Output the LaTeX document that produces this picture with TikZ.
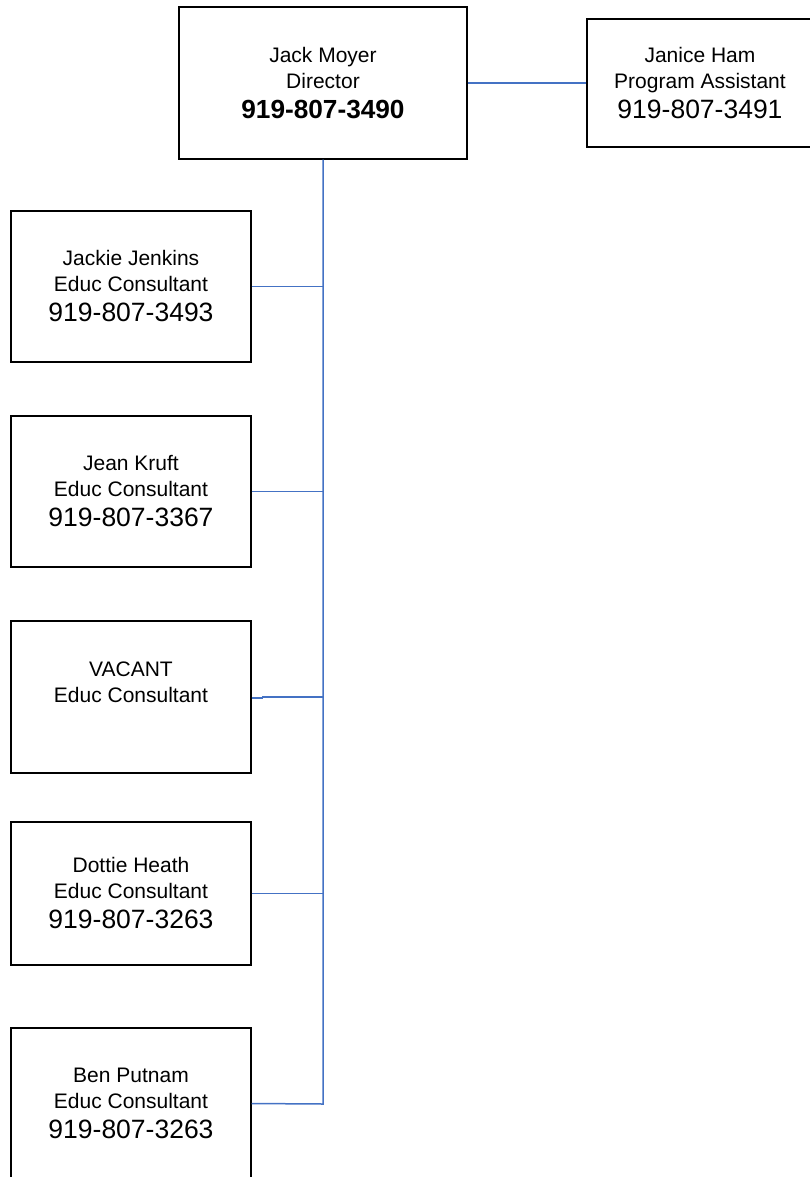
\documentclass[tikz,border=0pt]{standalone}
\usepackage{fontspec}
\setmainfont{Liberation Sans}
\usetikzlibrary{positioning}
\definecolor{wire}{HTML}{4472C4}
\newcommand{\phone}[1]{{\fontsize{26.5}{30}\selectfont #1}}
\tikzset{
  staff/.style={draw=black,line width=1.4pt,minimum width=240pt,minimum height=151pt,
                inner sep=0pt,align=center,font=\fontsize{21}{26}\selectfont},
  link/.style={draw=wire,line width=1.5pt},
}
\begin{document}
\begin{tikzpicture}[x=1pt,y=-1pt]
  \useasboundingbox (0,0) rectangle (810,1177);
  \clip (0,0) rectangle (810,1177);
  % director and assistant
  \node[staff,minimum width=288pt,minimum height=152pt] (boss) at (323,83)
    {Jack Moyer\\Director\\[4pt]{\fontsize{26.2}{30}\selectfont\bfseries 919-807-3490}};
  \node[staff,minimum width=226pt,minimum height=128pt] (assist) at (700,83)
    {Janice Ham\\Program Assistant\\[4pt]\phone{919-807-3491}};
  % consultants down the left side
  \node[staff] (jenkins) at (131,286.5)
    {Jackie Jenkins\\Educ Consultant\\[4pt]\phone{919-807-3493}};
  \node[staff] (kruft)   at (131,491.5)
    {Jean Kruft\\Educ Consultant\\[4pt]\phone{919-807-3367}};
  \node[staff,minimum height=152pt] (vacant) at (131,697)
    {VACANT\\Educ Consultant\\[4pt]\phone{\phantom{0}}};
  \node[staff,minimum height=143pt] (heath) at (131,893.5)
    {Dottie Heath\\Educ Consultant\\[4pt]\phone{919-807-3263}};
  \node[staff] (putnam)  at (131,1103.5)
    {Ben Putnam\\Educ Consultant\\[4pt]\phone{919-807-3263}};
  % connectors
  \coordinate (spine) at (323,1104);
  \draw[link] (boss.east) -- (assist.west);
  \draw[link] (boss.south) -- (spine) -- (putnam.east);
  \draw[link] (jenkins.east) -- (jenkins.east -| spine);
  \draw[link] (kruft.east) -- (kruft.east -| spine);
  \draw[link] (vacant.east) ++(0,0.8) -- ++(11,0) |- (vacant.east -| spine);
  \draw[link] (heath.east) -- (heath.east -| spine);
\end{tikzpicture}
\end{document}
